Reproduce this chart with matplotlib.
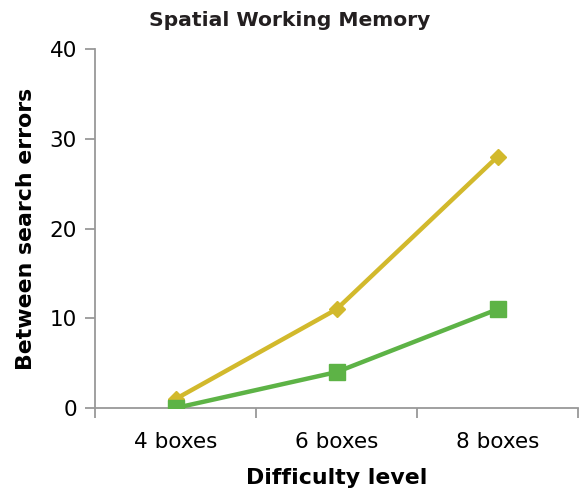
import numpy as np
import matplotlib.pyplot as plt

categories = ['4 boxes', '6 boxes', '8 boxes']
series_yellow = [1, 11, 28]
series_green = [0, 4, 11]

plt.rcParams['font.family'] = 'DejaVu Sans'

fig = plt.figure(figsize=(5.8, 4.92), dpi=100)
ax = fig.add_axes([0.1638, 0.1707, 0.8328, 0.7297])

x = np.arange(len(categories))
ax.plot(x, series_yellow, color='#D2B92C', lw=3.2, marker='D', markersize=8, zorder=3)
ax.plot(x, series_green, color='#5DB346', lw=3.2, marker='s', markersize=11, zorder=4)

ax.set_xlim(-0.5, 2.5)
ax.set_ylim(0, 40)
ax.set_yticks([0, 10, 20, 30, 40])
ax.set_xticks(x)
ax.set_xticklabels(categories)
ax.set_xticks([-0.5, 0.5, 1.5, 2.5], minor=True)
ax.tick_params(axis='x', which='major', length=0, pad=17, labelsize=15.5)
ax.tick_params(axis='x', which='minor', length=7, width=1.3, color='#999999', direction='out')
ax.tick_params(axis='y', length=7, width=1.3, color='#999999', direction='out', labelsize=15.5, pad=6)

for s in ['top', 'right']:
    ax.spines[s].set_visible(False)
for s in ['left', 'bottom']:
    ax.spines[s].set_color('#999999')
    ax.spines[s].set_linewidth(1.3)

fig.text(0.5, 0.958, 'Spatial Working Memory', fontsize=14.6, fontweight='bold',
         color='#231F20', ha='center', va='center')
ax.set_xlabel('Difficulty level', fontsize=15.8, fontweight='bold', labelpad=12)
ax.set_ylabel('Between search errors', fontsize=15.8, fontweight='bold', labelpad=10)

fig.savefig('out.png', dpi=100)
